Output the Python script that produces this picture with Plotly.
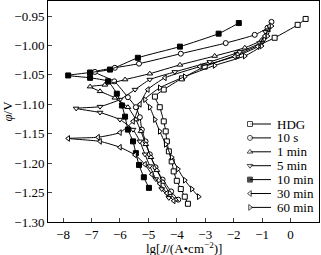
import plotly.graph_objects as go

# ---- data (lg J, potential); each curve ordered cathodic end -> tip -> anodic end
hdg_x = [-3.61, -3.72, -3.86, -4.00, -4.11, -4.18, -4.28, -4.35, -4.39, -4.46, -4.60, -4.77, -4.46, -3.82, -3.02, -1.89, -0.56, 0.25, 0.53]
hdg_y = [-1.269, -1.257, -1.244, -1.230, -1.214, -1.197, -1.180, -1.163, -1.146, -1.129, -1.105, -1.087, -1.075, -1.056, -1.036, -1.016, -0.987, -0.965, -0.955]

s10_x = [-3.95, -4.20, -4.50, -4.75, -4.95, -5.10, -5.23, -5.30, -5.44, -5.72, -6.20, -6.88, -6.18, -5.33, -3.86, -2.28, -1.26, -0.81, -0.67]
s10_y = [-1.262, -1.248, -1.228, -1.207, -1.185, -1.163, -1.143, -1.122, -1.105, -1.088, -1.061, -1.045, -1.038, -1.031, -1.014, -0.996, -0.982, -0.970, -0.960]

m1_x = [-4.04, -4.25, -4.49, -4.70, -4.91, -5.09, -5.26, -5.44, -5.72, -6.18, -6.70, -7.05, -6.53, -5.82, -4.95, -3.89, -2.67, -1.61, -1.02, -0.81]
m1_y = [-1.262, -1.251, -1.232, -1.212, -1.190, -1.168, -1.146, -1.126, -1.105, -1.089, -1.078, -1.070, -1.067, -1.058, -1.048, -1.033, -1.018, -1.004, -0.991, -0.974]

m5_x = [-4.28, -4.53, -4.74, -4.95, -5.12, -5.30, -5.54, -6.00, -6.70, -7.54, -6.70, -6.00, -5.47, -4.95, -4.07, -2.84, -1.79, -1.09, -0.88]
m5_y = [-1.259, -1.244, -1.227, -1.205, -1.185, -1.163, -1.143, -1.126, -1.114, -1.107, -1.104, -1.092, -1.075, -1.058, -1.045, -1.028, -1.011, -0.996, -0.977]

m10_x = [-4.98, -5.16, -5.33, -5.44, -5.54, -5.72, -5.82, -5.93, -6.11, -6.42, -7.05, -7.82, -7.05, -6.35, -5.37, -3.89, -2.53, -1.82]
m10_y = [-1.242, -1.224, -1.203, -1.183, -1.163, -1.143, -1.121, -1.102, -1.082, -1.061, -1.055, -1.051, -1.046, -1.041, -1.021, -1.002, -0.980, -0.962]

m30_x = [-4.11, -4.35, -4.60, -4.88, -5.12, -5.47, -6.00, -6.70, -7.82, -6.77, -6.00, -5.54, -5.30, -5.02, -4.42, -3.19, -1.96, -1.16, -0.91, -0.74]
m30_y = [-1.264, -1.251, -1.235, -1.219, -1.202, -1.186, -1.173, -1.163, -1.158, -1.156, -1.148, -1.129, -1.100, -1.075, -1.055, -1.036, -1.019, -1.002, -0.984, -0.967]

m60_x = [-3.23, -3.47, -3.72, -3.96, -4.18, -4.39, -4.60, -4.77, -4.95, -5.12, -4.60, -3.72, -2.67, -1.61, -1.02, -0.81, -0.67]
m60_y = [-1.257, -1.244, -1.229, -1.210, -1.190, -1.168, -1.146, -1.126, -1.105, -1.092, -1.072, -1.053, -1.034, -1.018, -1.001, -0.984, -0.967]

names = ["HDG", "10 s", "1 min", "5 min", "10 min", "30 min", "60 min"]
symbols = ["square", "circle", "triangle-up", "triangle-down",
           "square", "triangle-left", "triangle-right"]
filled = [False, False, False, False, True, False, False]
series = [(hdg_x, hdg_y), (s10_x, s10_y), (m1_x, m1_y), (m5_x, m5_y),
          (m10_x, m10_y), (m30_x, m30_y), (m60_x, m60_y)]

x_ticks = [-8, -7, -6, -5, -4, -3, -2, -1, 0, 1]
y_ticks = [-0.95, -1.00, -1.05, -1.10, -1.15, -1.20, -1.25, -1.30]
x_title = "lg[<i>J</i>/(A•cm<sup>−2</sup>)]"
y_title = "<i>φ</i>/V"

fig = go.Figure()
for (xs, ys), nm, sym, fl in zip(series, names, symbols, filled):
    fig.add_trace(go.Scatter(
        x=xs, y=ys, name=nm, mode="lines+markers", showlegend=False,
        line=dict(color="black", width=1, shape="spline", smoothing=0.5),
        marker=dict(symbol=sym, size=5, color="black" if fl else "white",
                    line=dict(color="black", width=1)),
    ))

# ---- hand-built legend (compact rows as in the original), on an overlay axis of [0,1]
L, R, T, B = 48, 319, 1, 222          # plot area in pixels
def fx(px):
    return (px - L) / (R - L)
def fy(py):
    return 1 - (py - T) / (B - T)

row0, row_gap = 124, 13.9
for i, (nm, sym, fl) in enumerate(zip(names, symbols, filled)):
    yy = fy(row0 + i * row_gap)
    fig.add_trace(go.Scatter(
        x=[fx(250), fx(254), fx(271)], y=[yy, yy, yy], xaxis="x2", yaxis="y2",
        mode="lines+markers", showlegend=False, hoverinfo="skip",
        line=dict(color="black", width=1),
        marker=dict(symbol=sym, size=[5, 0, 0], color="black" if fl else "white",
                    line=dict(color="black", width=1)),
    ))
    fig.add_annotation(x=fx(276), y=yy, xref="x2", yref="y2", text=nm,
                       showarrow=False, xanchor="left", yanchor="middle",
                       borderpad=0, font=dict(size=13))

# x-axis title placed as in the original (centre about 26 px below the axis)
fig.add_annotation(x=0.5, y=fy(248), xref="paper", yref="paper", text=x_title,
                   showarrow=False, xanchor="center", yanchor="middle",
                   borderpad=0, font=dict(size=13))

font_family = "Liberation Serif, Times New Roman, serif"
fig.update_layout(
    width=321, height=255,
    margin=dict(l=48, r=2, t=1, b=33),
    paper_bgcolor="white", plot_bgcolor="white",
    font=dict(family=font_family, size=13, color="black"),
    showlegend=False,
    xaxis=dict(range=[-8.53, 1.0], tickvals=x_ticks,
               ticktext=[("−" + str(abs(v))) if v < 0 else str(v) for v in x_ticks],
               ticks="inside", ticklen=4, showline=True, linecolor="black", linewidth=1,
               mirror=True, showgrid=False, zeroline=False, automargin=False),
    yaxis=dict(range=[-1.30, -0.9245], tickvals=y_ticks,
               ticktext=["−%.2f" % abs(v) for v in y_ticks],
               ticks="inside", ticklen=4, showline=True, linecolor="black", linewidth=1,
               mirror=True, showgrid=False, zeroline=False, automargin=False,
               title=dict(text=y_title, standoff=2, font=dict(size=13))),
    xaxis2=dict(range=[0, 1], overlaying="x", visible=False, fixedrange=True),
    yaxis2=dict(range=[0, 1], overlaying="y", visible=False, fixedrange=True),
)

fig.write_html("out.html")
